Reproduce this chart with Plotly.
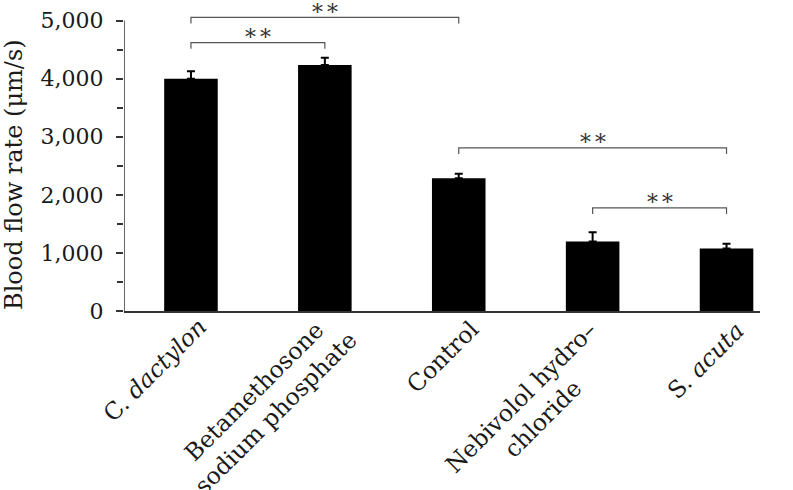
import plotly.graph_objects as go

categories = ["C. <i>dactylon</i>", "Betamethosone<br>sodium phosphate", "Control",
              "Nebivolol hydro–<br>chloride", "S. <i>acuta</i>"]
flow_rate = [4000, 4235, 2285, 1195, 1075]
flow_err = [130, 125, 80, 160, 85]
y_tick_vals = [0, 1000, 2000, 3000, 4000, 5000]
y_tick_text = ["0", "1,000", "2,000", "3,000", "4,000", "5,000"]
y_minor_vals = [500, 1500, 2500, 3500, 4500]
# significance brackets: (from index, to index, height)
sig_from = [0, 0, 2, 3]
sig_to = [1, 2, 4, 4]
sig_height = [4620, 5055, 2810, 1775]
sig_text = ["∗∗", "∗∗", "∗∗", "∗∗"]

FONT = "DejaVu Serif"
TXT = "#1a1a1a"
LINE = "#333333"

xs = list(range(len(categories)))

fig = go.Figure()
fig.add_trace(go.Bar(
    x=xs, y=flow_rate, width=0.40,
    marker=dict(color="black", line=dict(width=0)),
    error_y=dict(type="data", array=flow_err, arrayminus=[0] * len(flow_err),
                 symmetric=False, color="black", thickness=2, width=4),
    showlegend=False, hoverinfo="skip",
))

shapes = []
# y-axis line from 0 to 5000
shapes.append(dict(type="line", xref="x", yref="y", x0=-0.5, x1=-0.5,
                   y0=0, y1=y_tick_vals[-1], line=dict(color=LINE, width=1.5)))
leg = 105
annotations = []
for a, b, h, t in zip(sig_from, sig_to, sig_height, sig_text):
    shapes.append(dict(type="path", xref="x", yref="y",
                       path=f"M {a},{h - leg} L {a},{h} L {b},{h} L {b},{h - leg}",
                       line=dict(color="#555555", width=1.2)))
    annotations.append(dict(x=(a + b) / 2, y=h, xref="x", yref="y", text=t,
                            showarrow=False, xanchor="center", yanchor="middle",
                            yshift=10, font=dict(family=FONT, size=22, color="#333")))

# label centre offsets (pixels) from the bar centre / axis line
label_dx = [-36, -60, -16, -61, -21]
label_dy = [-59, -91, -46, -97, -50]
for i, (c, dx, dy) in enumerate(zip(categories, label_dx, label_dy)):
    annotations.append(dict(x=i, y=0, xref="x", yref="paper", text=c,
                            showarrow=False, textangle=-45, align="center",
                            xanchor="center", yanchor="middle", xshift=dx, yshift=dy,
                            font=dict(family=FONT, size=23.5, color=TXT)))

annotations.append(dict(x=0, y=0.4503, xref="paper", yref="paper",
                        text="Blood flow rate (μm/s)", textangle=-90,
                        showarrow=False, xanchor="center", yanchor="middle",
                        xshift=-110, font=dict(family=FONT, size=24, color=TXT)))

fig.update_layout(
    width=793, height=490,
    margin=dict(l=124, r=33, t=9, b=179),
    paper_bgcolor="white", plot_bgcolor="white",
    shapes=shapes, annotations=annotations,
    xaxis=dict(range=[-0.5, 4.25], showticklabels=False, ticks="",
               showline=True, linecolor=LINE, linewidth=1.5,
               showgrid=False, zeroline=False, fixedrange=True),
    yaxis=dict(range=[0, 5200], tickvals=y_tick_vals, ticktext=y_tick_text,
               ticks="outside", ticklen=7, tickwidth=1.5, tickcolor=LINE,
               minor=dict(tickvals=y_minor_vals, ticks="outside", ticklen=6,
                          tickwidth=1.5, tickcolor=LINE, showgrid=False),
               showline=False, showgrid=False, zeroline=False,
               tickfont=dict(family=FONT, size=22, color=TXT),
               ticklabelstandoff=8, fixedrange=True),
)

fig.write_html("out.html", config={"displayModeBar": False},
               post_script="document.body.style.margin='0px';document.body.style.overflow='hidden';")
